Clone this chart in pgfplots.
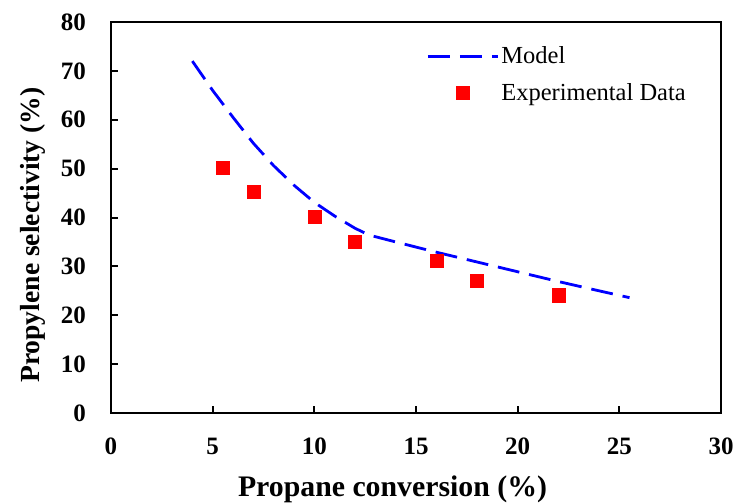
\documentclass[border=0pt]{standalone}
\usepackage{fontspec}
\setmainfont{Liberation Serif}
\usepackage{pgfplots}
\pgfplotsset{compat=1.18}
\pgfplotsset{
  mylineleg/.style={legend image code/.code={\draw[##1] (0pt,0pt) -- (70pt,0pt);}},
  mymarkleg/.style={legend image code/.code={\path (0pt,0pt) (70pt,0pt);\draw[##1] plot coordinates {(35pt,0pt)};}},
}
\begin{document}
\begin{tikzpicture}
\useasboundingbox (0,0) rectangle (736pt,503pt);
\begin{axis}[
  at={(111pt,90pt)}, anchor=south west,
  scale only axis, width=610pt, height=391pt,
  xmin=0, xmax=30, ymin=0, ymax=80,
  xtick={0,5,...,30}, ytick={0,10,...,80},
  axis line style={line width=2.6pt},
  tick style={line width=2pt, black},
  major tick length=7pt,
  tick align=inside,
  xtick pos=bottom, ytick pos=left,
  /pgf/number format/assume math mode=true,
  ticklabel style={font=\fontsize{25}{30}\selectfont\bfseries, inner sep=0pt},
  yticklabel style={anchor=east, xshift=-25pt},
  xticklabel style={anchor=north, yshift=-25pt},
  xlabel={\textbf{Propane conversion (\%)}},
  ylabel={\textbf{Propylene selectivity (\%)}},
  xlabel style={font=\fontsize{29.8}{34}\selectfont, at={(axis description cs:0.4615,0)}, anchor=base, yshift=-84pt, inner sep=0pt},
  ylabel style={font=\fontsize{27.6}{32}\selectfont, at={(axis description cs:-0.1164,0.455)}, anchor=base, inner sep=0pt},
  legend cell align=left,
  legend style={draw=none, fill=none, font=\fontsize{24.5}{28}\selectfont,
    at={(axis description cs:0.517,0.942)}, anchor=north west, inner sep=0pt,
    row sep=14pt, /tikz/every even column/.append style={column sep=6pt}},
]
\addplot[blue, line width=2.8pt, dash pattern=on 22pt off 10pt, mylineleg]
  coordinates {(4,72) (5,66) (6,60.5) (7,55.2) (8,50.6) (9,46.6) (10,43.1) (11,40.3) (12,37.8) (12.7,36.4) (14,35.0) (16,32.9) (18,30.9) (20,28.9) (22,26.9) (24,25.0) (25.5,23.6)};
\addlegendentry{Model}
\addplot[only marks, mark=square*, mark size=6.6pt, color=red, mymarkleg]
  coordinates {(5.5,50.2) (7,45.3) (10,40.1) (12,35.1) (16,31.1) (18,27.1) (22,24.1)};
\addlegendentry{Experimental Data}
\end{axis}
\end{tikzpicture}
\end{document}
